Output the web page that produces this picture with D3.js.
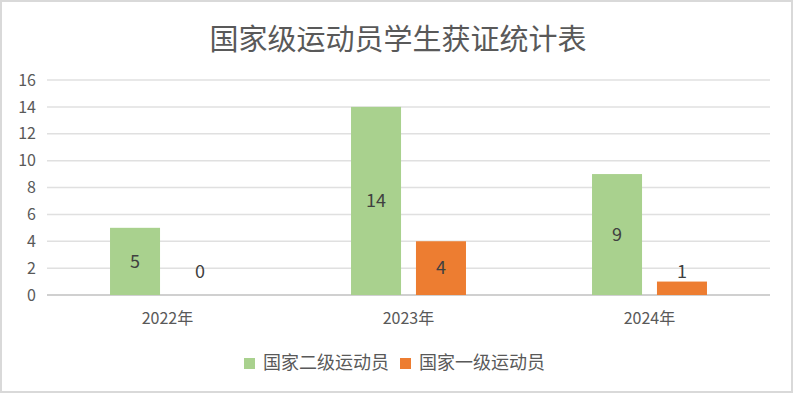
<!DOCTYPE html>
<html>
<head>
<meta charset="utf-8">
<script src="https://cdn.jsdelivr.net/npm/d3@7"></script>
<style>
  body { margin: 0; background: #fff; }
</style>
</head>
<body>
<svg id="chart" width="794" height="394"></svg>
<script>
const svg = d3.select("#chart");

const width = 794;
const height = 394;

// data
const years = ["2022年", "2023年", "2024年"];
const seriesNames = ["国家二级运动员", "国家一级运动员"];
const level2 = [5, 14, 9];
const level1 = [0, 4, 1];
const yTicks = [0, 2, 4, 6, 8, 10, 12, 14, 16];

const colors = ["#a9d18e", "#ed7d31"];
const textColor = "#595959";
const font = "'Noto Sans CJK SC', 'Noto Sans', sans-serif";

const seriesValues = [level2, level1];

// outer frame
svg.append("rect")
    .attr("x", 1)
    .attr("y", 1)
    .attr("width", width - 3)
    .attr("height", height - 3)
    .attr("fill", "white")
    .attr("stroke", "#d9d9d9")
    .attr("stroke-width", 2);

// title
svg.append("text")
    .attr("x", 398)
    .attr("y", 50)
    .attr("text-anchor", "middle")
    .attr("font-size", "29px")
    .attr("font-family", font)
    .attr("fill", textColor)
    .text("国家级运动员学生获证统计表");

// scales
const x = d3.scaleBand()
    .domain(years)
    .range([47, 770])
    .paddingInner(0.523)
    .paddingOuter(0.2615);

const xSeries = d3.scaleBand()
    .domain(seriesNames)
    .range([0, x.bandwidth()])
    .paddingInner(0.23)
    .paddingOuter(0);

const y = d3.scaleLinear()
    .domain([0, 16])
    .range([295, 80]);

// gridlines
svg.append("g")
    .selectAll("line")
    .data(yTicks)
    .enter()
    .append("line")
    .attr("x1", 47)
    .attr("x2", 770)
    .attr("y1", d => y(d))
    .attr("y2", d => y(d))
    .attr("stroke", d => d === 0 ? "#d0d0d0" : "#e0e0e0")
    .attr("stroke-width", d => d === 0 ? 2 : 1.5);

// y axis labels
const yAxis = d3.axisLeft(y).tickValues(yTicks).tickSize(0).tickPadding(0);
const yg = svg.append("g")
    .attr("transform", "translate(36,0)")
    .call(yAxis);
yg.select(".domain").remove();
yg.selectAll("text")
    .attr("font-size", "16px")
    .attr("font-family", font)
    .attr("fill", textColor);

// x axis labels
const xAxis = d3.axisBottom(x).tickSize(0).tickPadding(0);
const xg = svg.append("g")
    .attr("transform", "translate(0,313)")
    .call(xAxis);
xg.select(".domain").remove();
xg.selectAll("text")
    .attr("font-size", "16px")
    .attr("font-family", font)
    .attr("fill", textColor);

// bars
seriesNames.forEach((name, si) => {
    const vals = seriesValues[si];
    svg.append("g")
        .selectAll("rect")
        .data(years)
        .enter()
        .append("rect")
        .attr("x", (d) => x(d) + xSeries(name))
        .attr("y", (d, i) => y(vals[i]))
        .attr("width", xSeries.bandwidth())
        .attr("height", (d, i) => y(0) - y(vals[i]))
        .attr("fill", colors[si]);

    // value labels, centred in the bar, lifted when the bar is too short
    svg.append("g")
        .selectAll("text")
        .data(years)
        .enter()
        .append("text")
        .attr("x", d => x(d) + xSeries(name) + xSeries.bandwidth() / 2)
        .attr("y", (d, i) => Math.min((y(vals[i]) + y(0)) / 2, y(0) - 23))
        .attr("dy", "0.35em")
        .attr("text-anchor", "middle")
        .attr("font-size", "18px")
        .attr("font-family", font)
        .attr("fill", "#404040")
        .text((d, i) => vals[i]);
});

// legend
const legendX = [244, 400];
const legend = svg.append("g");
seriesNames.forEach((name, si) => {
    legend.append("rect")
        .attr("x", legendX[si])
        .attr("y", 358)
        .attr("width", 11)
        .attr("height", 11)
        .attr("fill", colors[si]);
    legend.append("text")
        .attr("x", legendX[si] + 19)
        .attr("y", 363)
        .attr("dy", "0.35em")
        .attr("font-size", "18px")
        .attr("font-family", font)
        .attr("fill", textColor)
        .text(name);
});
</script>
</body>
</html>
